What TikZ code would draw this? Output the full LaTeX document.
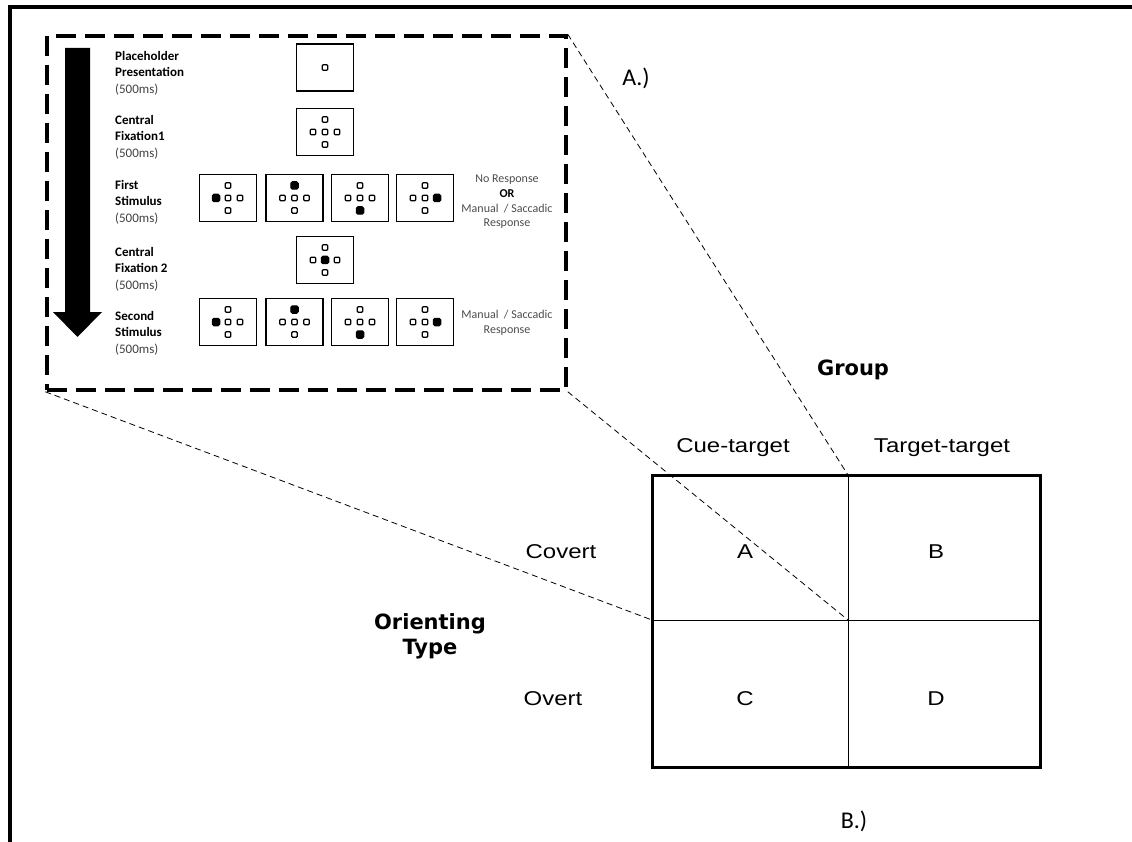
\documentclass[tikz,border=0pt]{standalone}
\usepackage{fontspec}
\setmainfont{Carlito}
\newfontfamily\tabfont[FakeStretch=1.2]{Liberation Sans}
\newfontfamily\headfont{DejaVu Sans}
\newcommand\crossdots[1]{%
  \foreach \n/\dx/\dy in {L/-12/0,U/0/-12.5,C/0/0,R/12/0,D/0/12.5}{%
    \node[sdot] (#1-\n) at ([shift={(\dx,\dy)}]#1.center) {};}}
\begin{document}
\begin{tikzpicture}[x=1pt,y=-1pt,
 screen/.style={draw, line width=1.5pt, minimum width=57pt, minimum height=47pt, inner sep=0pt},
 sdot/.style={draw, line width=1.4pt, minimum size=5.5pt, inner sep=0pt, rounded corners=1pt},
 cuedot/.style={draw, fill=black, line width=1pt, minimum size=7.5pt, inner sep=0pt, rounded corners=1.5pt},
 lbl/.style={anchor=west, align=left, inner sep=0pt, font=\fontsize{13}{16.5}\selectfont},
 resp/.style={align=center, inner sep=0pt, text=black!70, font=\fontsize{12}{14.7}\selectfont},
 tab/.style={anchor=base, inner sep=0pt, font=\tabfont\fontsize{20}{24}\selectfont},
 head/.style={anchor=base, inner sep=0pt, align=center, font=\headfont\bfseries\fontsize{21}{25}\selectfont},
 zoomline/.style={dash pattern=on 6pt off 4pt, line width=0.8pt},
 tag/.style={anchor=base, inner sep=0pt, font=\fontsize{24}{28}\selectfont},
]
\useasboundingbox (0,0) rectangle (1132,842);
\draw[line width=4pt] (10,842) -- (10,7.5) -- (1132,7.5);

% zoom panel
\node[draw, line width=3.5pt, dash pattern=on 20pt off 9pt, minimum width=519pt, minimum height=354pt, inner sep=0pt] (panel) at (306.5,213) {};

% time arrow
\fill (65,48) -- (90,48) -- (90,312) -- (102,312) -- (77.5,337) -- (53,312) -- (65,312) -- cycle;

% row labels
\node[lbl] (l1) at (115,73) {\textbf{Placeholder}\\\textbf{Presentation}\\{\color{black!75}(500ms)}};
\node[lbl] (l2) at (115,137) {\textbf{Central}\\\textbf{Fixation1}\\{\color{black!75}(500ms)}};
\node[lbl] (l3) at (115,202) {\textbf{First}\\\textbf{Stimulus}\\{\color{black!75}(500ms)}};
\node[lbl] (l4) at (115,269) {\textbf{Central}\\\textbf{Fixation 2}\\{\color{black!75}(500ms)}};
\node[lbl] (l5) at (115,333) {\textbf{Second}\\\textbf{Stimulus}\\{\color{black!75}(500ms)}};

% screens
\node[screen] (s1) at (325,67.5) {};
\node[sdot] (s1-C) at (s1.center) {};
\node[screen] (s2) at (325,132) {};
\crossdots{s2}
\node[screen] (s4) at (325,260) {};
\crossdots{s4}
\node[cuedot] (s4-cue) at (s4.center) {};
\foreach \r/\yy in {3/198,5/322}{
  \foreach \c/\xx/\cx/\cy in {1/228/-12/0,2/294.5/0/-12.5,3/360/0/12.5,4/425/12/0}{
    \node[screen] (s\r\c) at (\xx,\yy) {};
    \crossdots{s\r\c}
    \node[cuedot] (s\r\c-cue) at ([shift={(\cx,\cy)}]s\r\c.center) {};
  }}

% responses
\node[resp] (r3) at (507,202) {No Response\\{\color{black}\textbf{OR}}\\Manual\ \ / Saccadic\\Response};
\node[resp] (r5) at (507,323) {Manual\ \ / Saccadic\\Response};

% table
\coordinate (ctop) at (848,475);
\coordinate (cbot) at (848,767);
\coordinate (lmid) at (652,620);
\coordinate (rmid) at (1040,620);
\coordinate (ctr) at (848,620);
\draw[line width=1pt] (ctop) -- (cbot);
\draw[line width=1pt] (lmid) -- (rmid);
\node[draw, line width=3pt, minimum width=388pt, minimum height=292pt, inner sep=0pt] (tbl) at (846,621) {};

% zoom connectors
\draw[zoomline] (panel.north east) -- (ctop);
\draw[zoomline] (panel.south east) -- (ctr);
\draw[zoomline] (panel.south west) -- (lmid);

% table labels
\node[head] (grp) at (853,375) {Group};
\node[head] (ori) at (430,654.5) {Orienting\\Type};
\node[tab] (h1) at (733,452) {Cue-target};
\node[tab] (h2) at (942,452) {Target-target};
\node[tab] (v1) at (561,558) {Covert};
\node[tab] (v2) at (553,705) {Overt};
\node[tab] (ca) at (745,558) {A};
\node[tab] (cb) at (936,558) {B};
\node[tab] (cc) at (745,705) {C};
\node[tab] (cd) at (936,705) {D};

\node[tag] (ta) at (636,86) {A.)};
\node[tag] (tb) at (854,828) {B.)};
\end{tikzpicture}
\end{document}
